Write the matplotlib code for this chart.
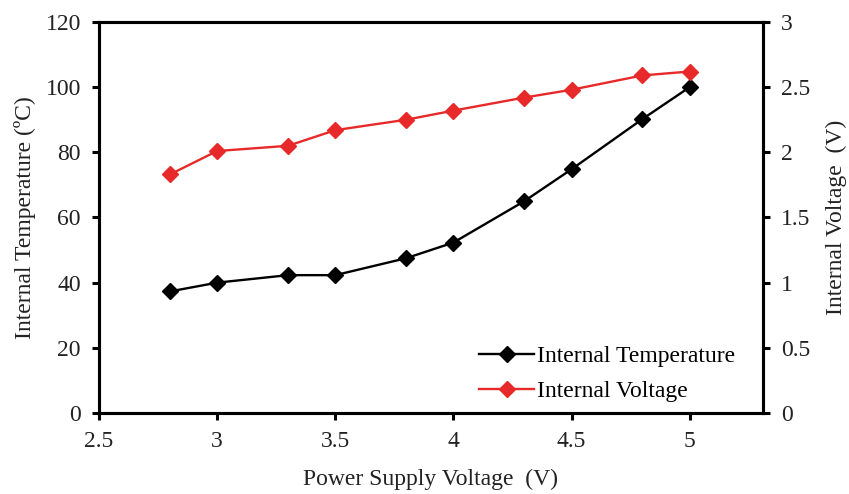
import matplotlib
matplotlib.use("Agg")
import matplotlib.pyplot as plt

plt.rcParams["font.family"] = ["Liberation Serif", "DejaVu Serif"]

supply_v = [2.8, 3.0, 3.3, 3.5, 3.8, 4.0, 4.3, 4.5, 4.8, 5.0]
int_temp = [37.3, 40.0, 42.3, 42.3, 47.5, 52.3, 65.0, 74.8, 90.2, 100.0]
int_volt = [1.83, 2.01, 2.05, 2.17, 2.25, 2.32, 2.42, 2.48, 2.59, 2.62]

red = "#e8292a"
txt = "#222222"

fig = plt.figure(figsize=(8.49, 4.94), dpi=100)
ax = fig.add_axes([0.1166, 0.164, 0.782, 0.7915])
ax2 = ax.twinx()

l1, = ax.plot(supply_v, int_temp, color="black", lw=1.7, marker="D",
              ms=8.5, label="Internal Temperature", zorder=3)
l2, = ax2.plot(supply_v, int_volt, color=red, lw=1.7, marker="D",
               ms=8.5, label="Internal Voltage")

ax.set_xlim(2.5, 5.31)
ax.set_ylim(0, 120)
ax2.set_ylim(0, 3)
ax.set_xticks([2.5, 3, 3.5, 4, 4.5, 5])
ax.set_xticklabels(["2.5", "3", "3.5", "4", "4.5", "5"])
ax.set_yticks(range(0, 121, 20))
ax2.set_yticks([0, 0.5, 1, 1.5, 2, 2.5, 3])
ax2.set_yticklabels(["0", "0.5", "1", "1.5", "2", "2.5", "3"])

for a in (ax, ax2):
    for s in a.spines.values():
        s.set_linewidth(2.2)
    a.tick_params(direction="out", width=2.2, length=5, labelsize=17,
                  labelcolor=txt, color="black", pad=8)

ax.set_xlabel("Power Supply Voltage  (V)", fontsize=17, color=txt, labelpad=12)
ax.set_ylabel("Internal Temperature (ºC)", fontsize=17, color=txt, labelpad=7)
ax2.set_ylabel("Internal Voltage  (V)", fontsize=17, color=txt, labelpad=11)

ax.legend(handles=[l1, l2], loc="lower right", bbox_to_anchor=(0.98, -0.008),
          frameon=False, fontsize=17, handlelength=2.3, handletextpad=0.15,
          labelspacing=0.57, borderaxespad=0.2)

fig.savefig("out.png", dpi=100)
